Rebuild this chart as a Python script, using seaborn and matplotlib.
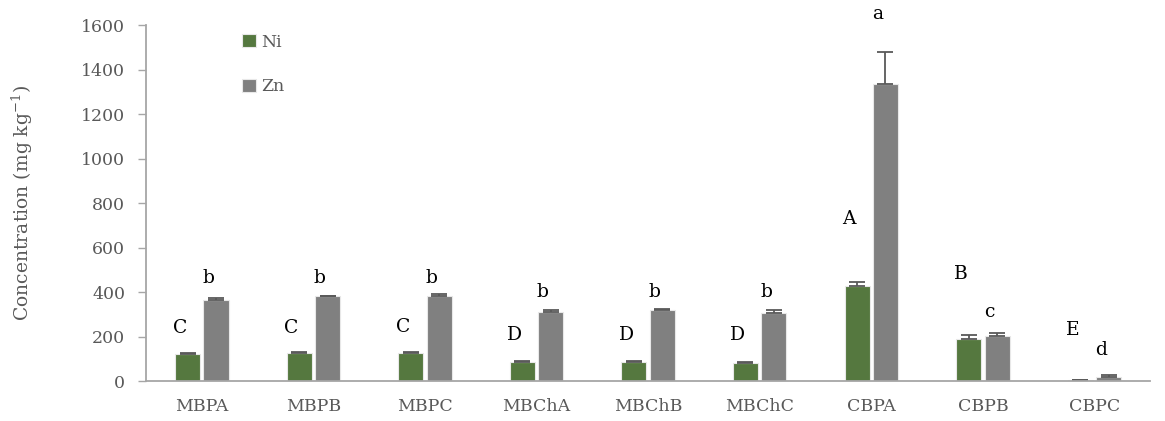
import pandas as pd
import numpy as np
import matplotlib.pyplot as plt
import seaborn as sns

# values
sites = ['MBPA', 'MBPB', 'MBPC', 'MBChA', 'MBChB', 'MBChC', 'CBPA', 'CBPB', 'CBPC']
ni_mean = [120, 125, 125, 85, 85, 82, 425, 188, 3]
ni_err = [4, 4, 5, 4, 3, 3, 22, 18, 1]
zn_mean = [362, 380, 382, 312, 318, 305, 1335, 203, 20]
zn_err = [12, 3, 8, 6, 5, 12, 145, 12, 6]
ni_letters = ['C', 'C', 'C', 'D', 'D', 'D', 'A', 'B', 'E']
zn_letters = ['b', 'b', 'b', 'b', 'b', 'b', 'a', 'c', 'd']
ni_letter_y = [238, 238, 243, 207, 207, 207, 728, 481, 229]
zn_letter_y = [463, 463, 463, 400, 400, 400, 1650, 310, 139]

df = pd.DataFrame({
    'Site': sites * 2,
    'Metal': ['Ni'] * len(sites) + ['Zn'] * len(sites),
    'Conc': ni_mean + zn_mean,
})

sns.set_style('white')
plt.rcParams['font.family'] = ['DejaVu Serif']

fig = plt.figure(figsize=(11.65, 4.21), dpi=100)
ax = fig.add_axes([0.1253, 0.095, 0.862, 0.8455])

colors = {'Ni': '#538135', 'Zn': '#808080'}
sns.barplot(data=df, x='Site', y='Conc', hue='Metal', palette=colors,
            width=0.51, gap=0.12, edgecolor='#e8e8e8', linewidth=0.8,
            errorbar=None, ax=ax)

# error bars and letters on top of the bars
grey_txt = '#595959'
for cont, errs, letters, ly in zip(ax.containers, [ni_err, zn_err],
                                   [ni_letters, zn_letters], [ni_letter_y, zn_letter_y]):
    xs = [p.get_x() + p.get_width() / 2 for p in cont.patches]
    hs = [p.get_height() for p in cont.patches]
    ax.errorbar(xs, hs, yerr=[np.zeros(len(errs)), errs], fmt='none',
                ecolor='#595959', elinewidth=1.3, capsize=6, capthick=1.3)
    for x, t, y in zip(xs, letters, ly):
        ax.text(x - 0.07, y, t, ha='center', va='center', fontsize=13.5,
                color='black', clip_on=False)

ax.set_ylim(0, 1600)
ax.set_yticks(range(0, 1601, 200))
ax.set_xlim(-0.5, len(sites) - 0.5)
ax.set_xlabel('')
ax.set_ylabel('Concentration (mg kg$^{\\mathregular{-1}}$)', fontsize=13.5, color=grey_txt, labelpad=33)
ax.tick_params(axis='y', which='major', direction='out', length=6, width=1,
               color='#a6a6a6', labelsize=12.5, labelcolor=grey_txt, left=True, pad=9)
ax.tick_params(axis='x', length=0, labelsize=12.5, labelcolor=grey_txt, pad=12)

for s in ['top', 'right']:
    ax.spines[s].set_visible(False)
for s in ['left', 'bottom']:
    ax.spines[s].set_color('#a6a6a6')
    ax.spines[s].set_linewidth(1.3)

leg = ax.legend(loc='upper left', bbox_to_anchor=(0.08, 1.02), frameon=False,
                fontsize=12.5, handlelength=0.8, handleheight=0.8, handletextpad=0.3,
                labelspacing=1.6)
for t in leg.get_texts():
    t.set_color(grey_txt)

fig.savefig('out.png', dpi=100)
